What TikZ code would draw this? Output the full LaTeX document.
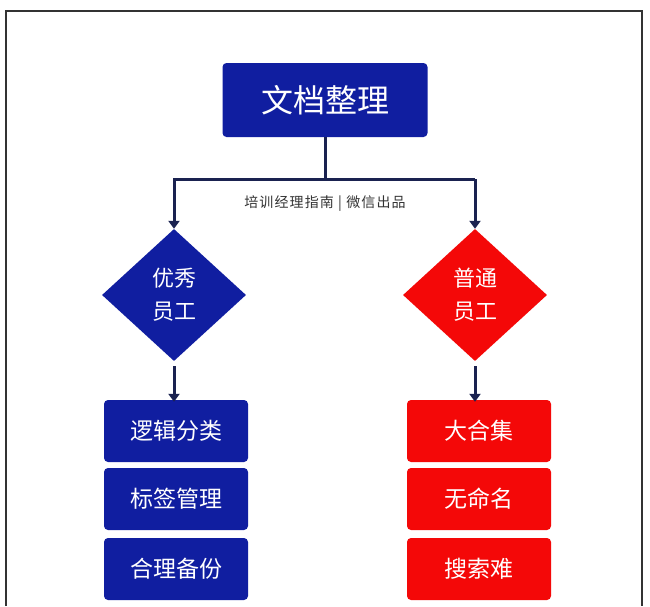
\documentclass[tikz,border=0pt]{standalone}
\usepackage{fontspec}
\usepackage{tikz}
\usetikzlibrary{arrows.meta,positioning,shapes.geometric}
\newfontfamily\cjk{Noto Sans CJK SC}
\newfontfamily\cjkw{Noto Sans CJK SC}[LetterSpace=8]
\definecolor{docblue}{RGB}{16,30,160}
\definecolor{docred}{RGB}{244,8,8}
\definecolor{docline}{RGB}{26,34,80}
\definecolor{docgray}{RGB}{51,51,51}
\tikzset{
  ttlbox/.style={rectangle, rounded corners=4pt, fill=docblue, text=white, font=\cjk\fontsize{32}{36}\selectfont, minimum width=205pt, minimum height=74pt, inner sep=0pt},
  dia/.style={diamond, aspect=1.09, minimum width=144pt, minimum height=132pt, inner sep=0pt, text=white, align=center, font=\cjk\fontsize{22}{33}\selectfont},
  itm/.style={rectangle, rounded corners=4pt, text=white, font=\cjk\fontsize{23}{26}\selectfont, minimum width=144pt, minimum height=62pt, inner sep=0pt},
  conn/.style={docline, line width=3pt},
  carr/.style={conn, -{Triangle[length=8pt, width=11pt]}},
}
\begin{document}
\begin{tikzpicture}[x=1pt, y=-1pt]
\useasboundingbox (0,0) rectangle (650,606);
\fill[white] (0,0) rectangle (650,606);
% frame
\draw[docgray, line width=2pt] (6,606) -- (6,11) -- (642,11) -- (642,606);
% title
\node[ttlbox] (top) at (325,100) {文档整理};
\coordinate (split) at (325,179);
\coordinate (lsplit) at (174,179);
\coordinate (rsplit) at (475,179);
% branches
\node[dia, fill=docblue] (good) at (174,295) {优秀\\员工};
\node[dia, fill=docred] (norm) at (475,295) {普通\\员工};
\node[font=\cjkw\fontsize{14}{16}\selectfont, text=docgray] (mark) at (325,204) {培训经理指南 | 微信出品};
% left column
\node[itm, fill=docblue] (g1) at (176,431) {逻辑分类};
\node[itm, fill=docblue] (g2) at (176,499) {标签管理};
\node[itm, fill=docblue] (g3) at (176,569) {合理备份};
% right column
\node[itm, fill=docred] (n1) at (479,431) {大合集};
\node[itm, fill=docred] (n2) at (479,499) {无命名};
\node[itm, fill=docred] (n3) at (479,569) {搜索难};
% connectors
\draw[conn] (top.south) -- (split);
\draw[carr] (rsplit) -- (lsplit) -- (good.north);
\draw[carr] (rsplit) -- (norm.north);
\draw[carr] ([yshift=-5pt]good.south) -- ([yshift=-2pt]g1.north -| good.south);
\draw[carr] ([yshift=-5pt]norm.south) -- ([yshift=-2pt]n1.north -| norm.south);
\end{tikzpicture}
\end{document}
